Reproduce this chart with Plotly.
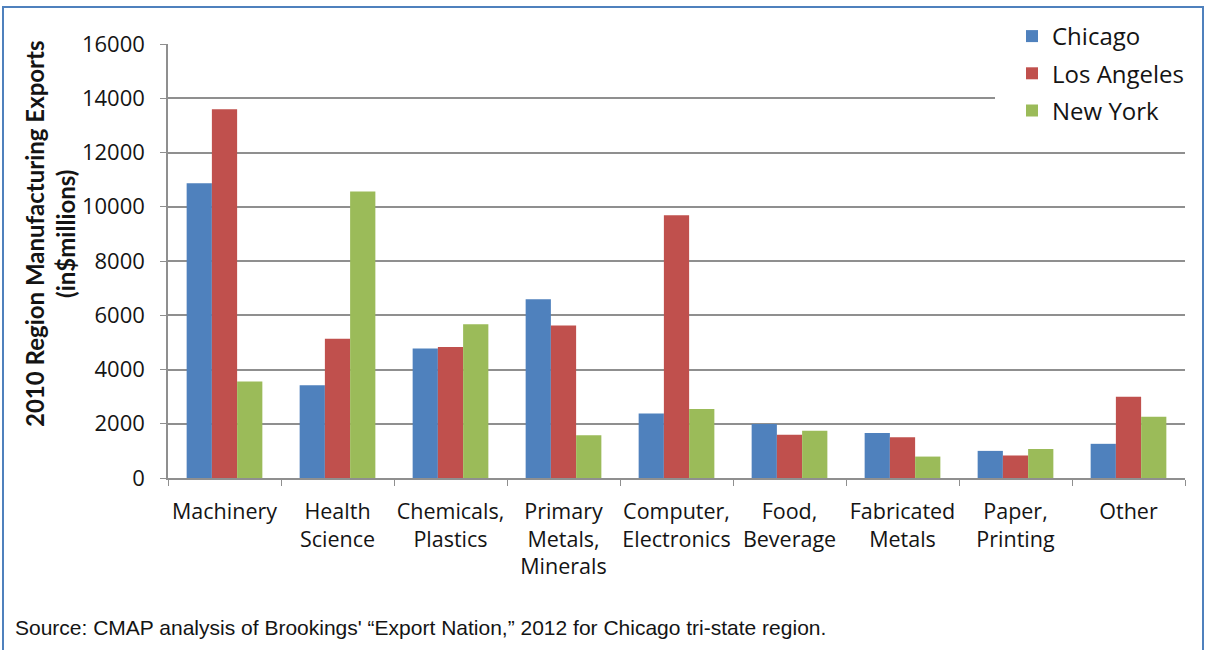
import plotly.graph_objects as go

categories = ["Machinery", "Health<br>Science", "Chemicals,<br>Plastics",
              "Primary<br>Metals,<br>Minerals", "Computer,<br>Electronics",
              "Food,<br>Beverage", "Fabricated<br>Metals", "Paper,<br>Printing", "Other"]
chicago = [10870, 3420, 4770, 6590, 2380, 1990, 1660, 1000, 1260]
los_angeles = [13590, 5130, 4830, 5620, 9690, 1590, 1500, 830, 3000]
new_york = [3560, 10560, 5670, 1580, 2540, 1740, 790, 1070, 2260]
y_ticks = [0, 2000, 4000, 6000, 8000, 10000, 12000, 14000, 16000]

series = [("Chicago", chicago, "#4F81BD"),
          ("Los Angeles", los_angeles, "#C0504D"),
          ("New York", new_york, "#9BBB59")]

W, H = 1206, 650
L, R, T, B = 168, 1185, 44, 478


def px2x(p):
    return (p - L) / (R - L)


def px2y(p):
    return (B - p) / (B - T)


FONT = "Open Sans, Lato, sans-serif"
TXT = "#141414"
GRID = "#8f8f8f"

fig = go.Figure()
for name, vals, col in series:
    fig.add_trace(go.Bar(x=categories, y=vals, name=name, marker_color=col,
                         marker_line_width=0, legendgroup=name))

fig.update_layout(
    width=W, height=H,
    margin=dict(l=L, r=W - R, t=T, b=H - B),
    paper_bgcolor="white", plot_bgcolor="white",
    barmode="group", bargap=0.33, bargroupgap=0,
    font=dict(family=FONT, size=22, color=TXT),
    showlegend=True,
    legend=dict(x=px2x(1012), y=px2y(14), xanchor="left", yanchor="top",
                bgcolor="white", font=dict(family=FONT, size=24, color=TXT),
                traceorder="grouped", tracegroupgap=3, itemwidth=30),
)
fig.update_yaxes(range=[0, 16000], tickvals=y_ticks, tickformat="d",
                 showgrid=True, gridcolor=GRID, gridwidth=1.5,
                 showline=True, linecolor=GRID, linewidth=1.5,
                 ticks="outside", ticklen=6, tickcolor=GRID,
                 ticklabelstandoff=11, zeroline=False,
                 tickfont=dict(family=FONT, size=22, color=TXT))
fig.update_xaxes(type="category", tickson="boundaries", ticks="outside",
                 ticklen=6, tickcolor=GRID, showline=True,
                 linecolor=GRID, linewidth=1.5, showgrid=False,
                 ticklabelstandoff=13, tickangle=0,
                 tickfont=dict(family=FONT, size=21.5, color=TXT))

# white patch behind legend hiding gridlines
fig.add_shape(type="rect", xref="paper", yref="paper", layer="above",
              x0=px2x(995), x1=1.005, y0=px2y(125), y1=1.02,
              fillcolor="white", line_width=0)

# frame
fig.add_shape(type="rect", xref="paper", yref="paper", layer="above",
              x0=px2x(3), x1=px2x(1203), y0=px2y(700), y1=px2y(7),
              line=dict(color="#4F81BD", width=2), fillcolor="rgba(0,0,0,0)")

fig.add_annotation(text="<b>2010 Region Manufacturing Exports<br>(in$millions)</b>",
                   xref="paper", yref="paper", x=px2x(50), y=px2y(234),
                   xanchor="center", yanchor="middle", textangle=-90,
                   showarrow=False, font=dict(family="Lato, sans-serif", size=24, color=TXT))

fig.add_annotation(text="Source: CMAP analysis of Brookings' \u201cExport Nation,\u201d 2012 for Chicago tri-state region.",
                   xref="paper", yref="paper", x=px2x(13), y=px2y(627),
                   xanchor="left", yanchor="middle", showarrow=False,
                   font=dict(family="Liberation Sans, Arial, sans-serif", size=21, color=TXT))

fig.write_html("out.html", config={"displayModeBar": False},
               post_script="document.body.style.margin='0px';")
